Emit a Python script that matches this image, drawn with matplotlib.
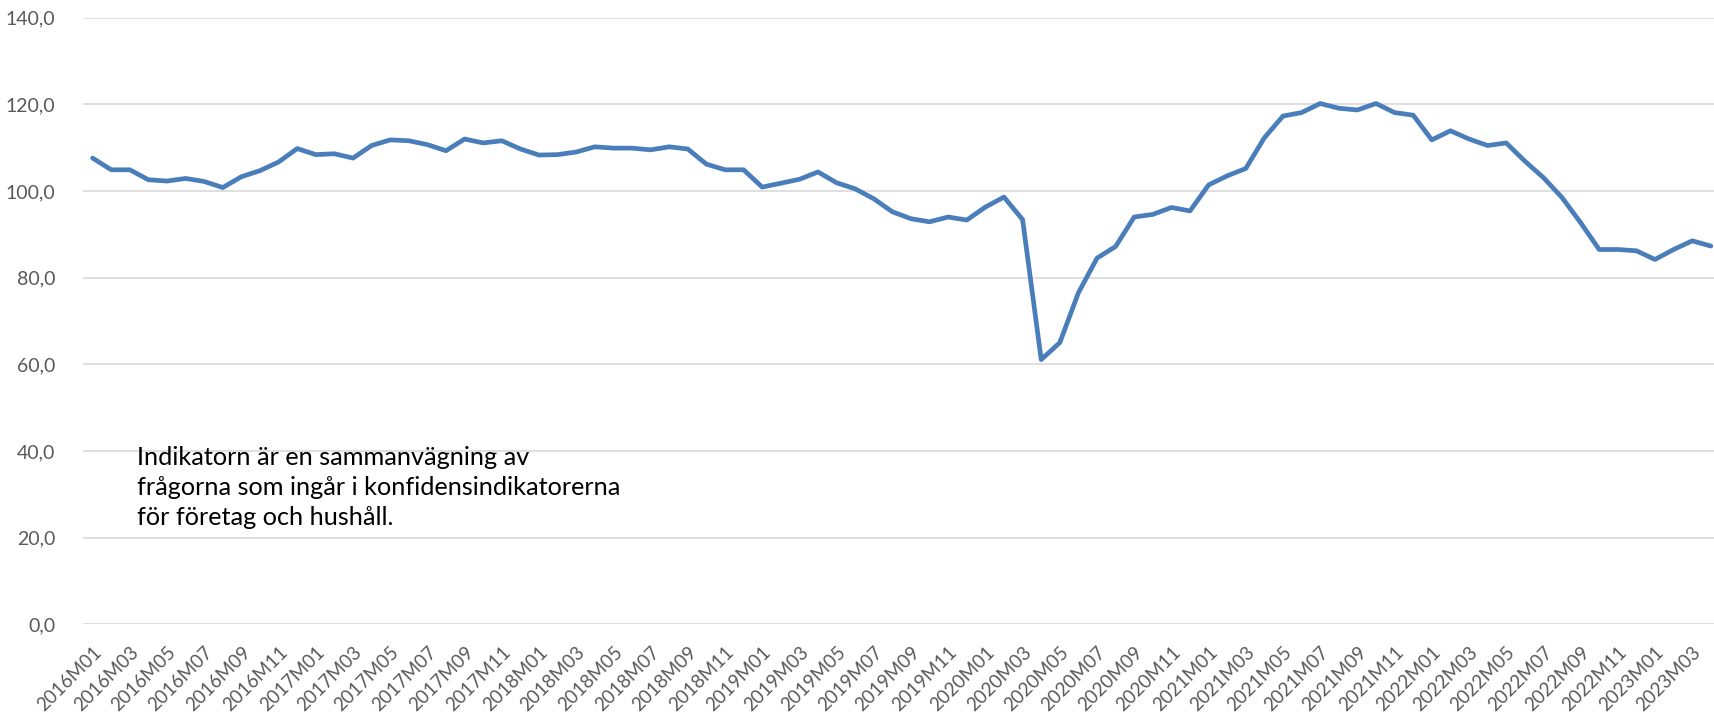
import numpy as np
import matplotlib
matplotlib.use('Agg')
import matplotlib.pyplot as plt

# monthly values, 2016M01 .. 2023M04
years = [2016, 2017, 2018, 2019, 2020, 2021, 2022, 2023]
values = [
    107.6, 104.9, 104.9, 102.6, 102.3, 102.9, 102.2, 100.8, 103.3, 104.7, 106.7, 109.8,  # 2016
    108.4, 108.6, 107.6, 110.5, 111.8, 111.6, 110.7, 109.3, 112.0, 111.1, 111.6, 109.7,  # 2017
    108.3, 108.4, 109.0, 110.2, 109.9, 109.9, 109.5, 110.2, 109.7, 106.2, 104.9, 104.9,  # 2018
    100.9, 101.8, 102.7, 104.4, 101.9, 100.5, 98.2, 95.2, 93.6, 92.9, 94.0, 93.3,        # 2019
    96.3, 98.6, 93.4, 61.1, 65.0, 76.5, 84.5, 87.2, 94.0, 94.6, 96.2, 95.4,              # 2020
    101.4, 103.5, 105.2, 112.3, 117.3, 118.1, 120.2, 119.1, 118.7, 120.2, 118.1, 117.5,  # 2021
    111.8, 113.9, 112.0, 110.5, 111.1, 106.9, 103.1, 98.5, 92.7, 86.5, 86.5, 86.2,       # 2022
    84.2, 86.5, 88.5, 87.3,                                                              # 2023
]
months = ['%dM%02d' % (y, m) for y in years for m in range(1, 13)][:len(values)]
yticks = [0, 20, 40, 60, 80, 100, 120, 140]
note = ('Indikatorn är en sammanvägning av\n'
        'frågorna som ingår i konfidensindikatorerna\n'
        'för företag och hushåll.')

plt.rcParams['font.family'] = ['Lato', 'DejaVu Sans']

W, H = 1715, 716
fig = plt.figure(figsize=(W / 100, H / 100), dpi=100)
left = 83.3 / W
bottom = 1 - 624.3 / H
top = 1 - 17.7 / H
width = 88 * 18.6 / W
ax = fig.add_axes([left, bottom, width, top - bottom])

x = np.arange(len(values))
ax.plot(x, values, color='#4a7ebb', lw=3.4, solid_joinstyle='round',
        solid_capstyle='round', zorder=3)

ax.set_xlim(-0.5, len(values) - 0.5)
ax.set_ylim(0, 140)
ax.set_yticks(yticks)
ax.set_yticklabels(['%d,0' % v for v in yticks])
ax.yaxis.grid(True, color='#d9d9d9', lw=1.2)
ax.set_axisbelow(True)
for s in ax.spines.values():
    s.set_visible(False)

ax.set_xticks(x[::2])
ax.set_xticklabels(months[::2], rotation=45, ha='right', va='top',
                   rotation_mode='anchor')
ax.tick_params(axis='both', length=0, labelcolor='#595959')
ax.tick_params(axis='y', pad=20, labelsize=14)
ax.tick_params(axis='x', pad=14, labelsize=13.5)

fig.text(137 / W, 1 - 446 / H, note, fontsize=18.2, color='#000000',
         va='top', ha='left', linespacing=1.38)

fig.savefig('out.png', dpi=100)
